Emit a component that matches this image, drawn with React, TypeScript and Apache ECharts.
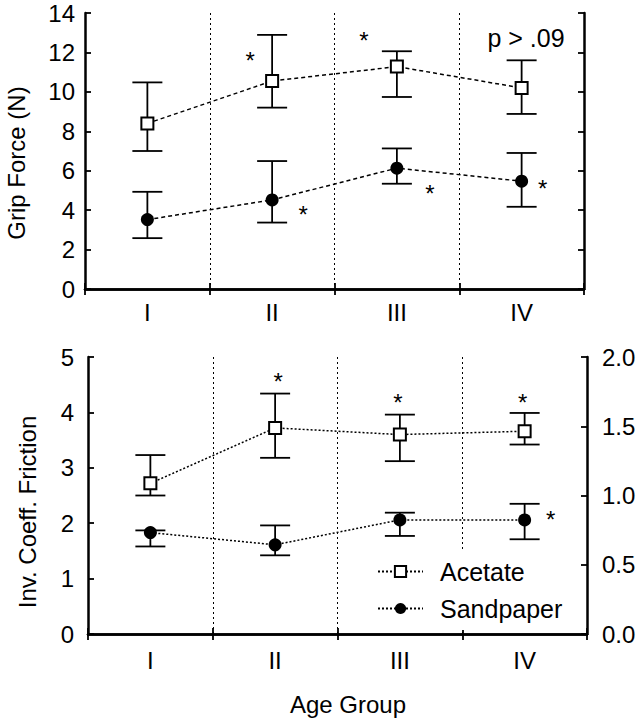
import React, { useEffect, useRef } from "react";
import * as echarts from "echarts";

const categories = ["I", "II", "III", "IV"];

const gripAcetate = [8.4, 10.55, 11.28, 10.2];
const gripAcetateLow = [7.0, 9.2, 9.74, 8.88];
const gripAcetateHigh = [10.48, 12.89, 12.06, 11.6];
const gripSand = [3.52, 4.52, 6.13, 5.47];
const gripSandLow = [2.58, 3.37, 5.34, 4.17];
const gripSandHigh = [4.93, 6.49, 7.13, 6.9];

const fricAcetate = [2.72, 3.72, 3.6, 3.66];
const fricAcetateLow = [2.5, 3.18, 3.12, 3.42];
const fricAcetateHigh = [3.23, 4.34, 3.96, 3.99];
const fricSand = [1.83, 1.61, 2.06, 2.06];
const fricSandLow = [1.58, 1.42, 1.77, 1.71];
const fricSandHigh = [1.87, 1.96, 2.19, 2.35];

const gripStarCats = [1, 2, 1, 2, 3];
const gripStarValues = [11.75, 12.77, 3.93, 5.01, 5.27];
const fricStarCats = [1, 2, 3, 3];
const fricStarValues = [4.61, 4.23, 4.23, 2.12];

// style: horizontal pixel offsets of the asterisks from their category centre
const gripStarDx = [-22, -33, 31, 33, 21];
const fricStarDx = [3, -2, -2, 26];

const leftTicksTop = [0, 14, 2];
const leftTicksBottom = [0, 5, 1];
const rightTicksBottom = [0, 2, 0.5];

const FONT = "'Liberation Sans', Arial, Helvetica, sans-serif";

function errData(low: number[], high: number[]) {
  return low.map((l, i) => [i, l, high[i]]);
}
function starData(cats: number[], vals: number[]) {
  return cats.map((c, i) => [c, vals[i]]);
}

function errorRender(params: any, api: any) {
  const lo = api.coord([api.value(0), api.value(1)]);
  const hi = api.coord([api.value(0), api.value(2)]);
  const hw = 15;
  const st = { stroke: "#000", lineWidth: 1.8 };
  return {
    type: "group",
    children: [
      { type: "line", shape: { x1: lo[0], y1: lo[1], x2: hi[0], y2: hi[1] }, style: st },
      { type: "line", shape: { x1: lo[0] - hw, y1: lo[1], x2: lo[0] + hw, y2: lo[1] }, style: st },
      { type: "line", shape: { x1: hi[0] - hw, y1: hi[1], x2: hi[0] + hw, y2: hi[1] }, style: st },
    ],
  };
}

function starRender(dx: number[]) {
  return (params: any, api: any) => {
    const p = api.coord([api.value(0), api.value(1)]);
    return {
      type: "text",
      x: p[0] + dx[params.dataIndex],
      y: p[1] + 3,
      style: {
        text: "*",
        font: `24px ${FONT}`,
        fill: "#000",
        align: "center",
        verticalAlign: "middle",
      },
    };
  };
}

export default function App() {
  const ref = useRef<HTMLDivElement>(null);

  useEffect(() => {
    document.body.style.margin = "0";
    if (!ref.current) return;
    const chart = echarts.init(ref.current, undefined, { renderer: "svg" });

    const axisLine = { show: true, lineStyle: { color: "#000", width: 2.5 } };
    const axisTickIn = { show: true, inside: true, length: 6, lineStyle: { color: "#000", width: 1.8 } };
    const labelStyle = { color: "#000", fontSize: 24, fontFamily: FONT };

    const xBottom = (gridIndex: number, margin: number) => ({
      type: "category",
      gridIndex,
      data: categories,
      position: "bottom",
      boundaryGap: true,
      axisLine,
      axisTick: { ...axisTickIn, alignWithLabel: false },
      axisLabel: { ...labelStyle, margin },
      splitLine: { show: true, lineStyle: { color: "#000", width: 1, type: [2, 3] } },
    });
    const xTop = (gridIndex: number) => ({
      type: "category",
      gridIndex,
      data: categories,
      position: "top",
      boundaryGap: true,
      axisLine,
      axisTick: { ...axisTickIn, alignWithLabel: false },
      axisLabel: { show: false },
      splitLine: { show: false },
    });
    const yAx = (
      gridIndex: number,
      position: string,
      ticks: number[],
      showLabel: boolean,
      margin: number,
      fmt?: (v: number) => string
    ) => ({
      type: "value",
      gridIndex,
      position,
      min: ticks[0],
      max: ticks[1],
      interval: ticks[2],
      axisLine,
      axisTick: axisTickIn,
      axisLabel: showLabel
        ? { ...labelStyle, margin, formatter: fmt ? fmt : (v: number) => String(v) }
        : { show: false },
      splitLine: { show: false },
    });

    const lineSeries = (
      name: string,
      data: number[],
      xi: number,
      yi: number,
      filled: boolean,
      dash: number[]
    ) => ({
      type: "line",
      name,
      data,
      xAxisIndex: xi,
      yAxisIndex: yi,
      symbol: filled ? "circle" : "rect",
      symbolSize: filled ? 13 : 12,
      z: 5,
      itemStyle: filled
        ? { color: "#000", borderColor: "#000", borderWidth: 0 }
        : { color: "#fff", borderColor: "#000", borderWidth: 2 },
      lineStyle: { color: "#000", width: 1.5, type: dash },
    });

    const errSeries = (low: number[], high: number[], xi: number, yi: number) => ({
      type: "custom",
      xAxisIndex: xi,
      yAxisIndex: yi,
      z: 3,
      data: errData(low, high),
      renderItem: errorRender,
    });

    const starSeries = (cats: number[], vals: number[], dx: number[], xi: number, yi: number) => ({
      type: "custom",
      xAxisIndex: xi,
      yAxisIndex: yi,
      z: 6,
      data: starData(cats, vals),
      renderItem: starRender(dx),
    });

    const option: any = {
      animation: false,
      backgroundColor: "#fff",
      grid: [
        { left: 85, top: 13, width: 499, height: 276 },
        { left: 88, top: 357, width: 499, height: 277 },
      ],
      xAxis: [xBottom(0, 11), xTop(0), xBottom(1, 14), xTop(1)],
      yAxis: [
        yAx(0, "left", leftTicksTop, true, 10),
        yAx(0, "right", leftTicksTop, false, 10),
        yAx(1, "left", leftTicksBottom, true, 14),
        yAx(1, "right", rightTicksBottom, true, 15, (v: number) => v.toFixed(1)),
      ],
      legend: {
        data: ["Acetate", "Sandpaper"],
        orient: "vertical",
        left: 369,
        top: 552,
        padding: [7, 14, 9, 8],
        backgroundColor: "#fff",
        itemWidth: 45,
        itemHeight: 14,
        itemGap: 12,
        selectedMode: false,
        textStyle: { ...labelStyle, fontSize: 25, lineHeight: 25, padding: [0, 0, 0, 12] },
      },
      series: [
        lineSeries("Acetate", fricAcetate, 2, 2, false, [2, 2]),
        lineSeries("Sandpaper", fricSand, 2, 2, true, [2, 2]),
        lineSeries("Acetate", gripAcetate, 0, 0, false, [4, 3]),
        lineSeries("Sandpaper", gripSand, 0, 0, true, [4, 3]),
        errSeries(gripAcetateLow, gripAcetateHigh, 0, 0),
        errSeries(gripSandLow, gripSandHigh, 0, 0),
        errSeries(fricAcetateLow, fricAcetateHigh, 2, 2),
        errSeries(fricSandLow, fricSandHigh, 2, 2),
        starSeries(gripStarCats, gripStarValues, gripStarDx, 0, 0),
        starSeries(fricStarCats, fricStarValues, fricStarDx, 2, 2),
      ],
      graphic: [
        {
          type: "text",
          x: 16,
          y: 163,
          rotation: Math.PI / 2,
          style: { text: "Grip Force (N)", font: `24px ${FONT}`, fill: "#000", align: "center", verticalAlign: "middle" },
        },
        {
          type: "text",
          x: 27,
          y: 512,
          rotation: Math.PI / 2,
          style: { text: "Inv. Coeff. Friction", font: `24px ${FONT}`, fill: "#000", align: "center", verticalAlign: "middle" },
        },
        {
          type: "text",
          x: 348,
          y: 704,
          style: { text: "Age Group", font: `24px ${FONT}`, fill: "#000", align: "center", verticalAlign: "middle" },
        },
        {
          type: "text",
          x: 526,
          y: 38,
          style: { text: "p > .09", font: `25px ${FONT}`, fill: "#000", align: "center", verticalAlign: "middle" },
        },
      ],
    };

    chart.setOption(option);
    return () => chart.dispose();
  }, []);

  return <div ref={ref} style={{ width: 640, height: 719 }} />;
}
